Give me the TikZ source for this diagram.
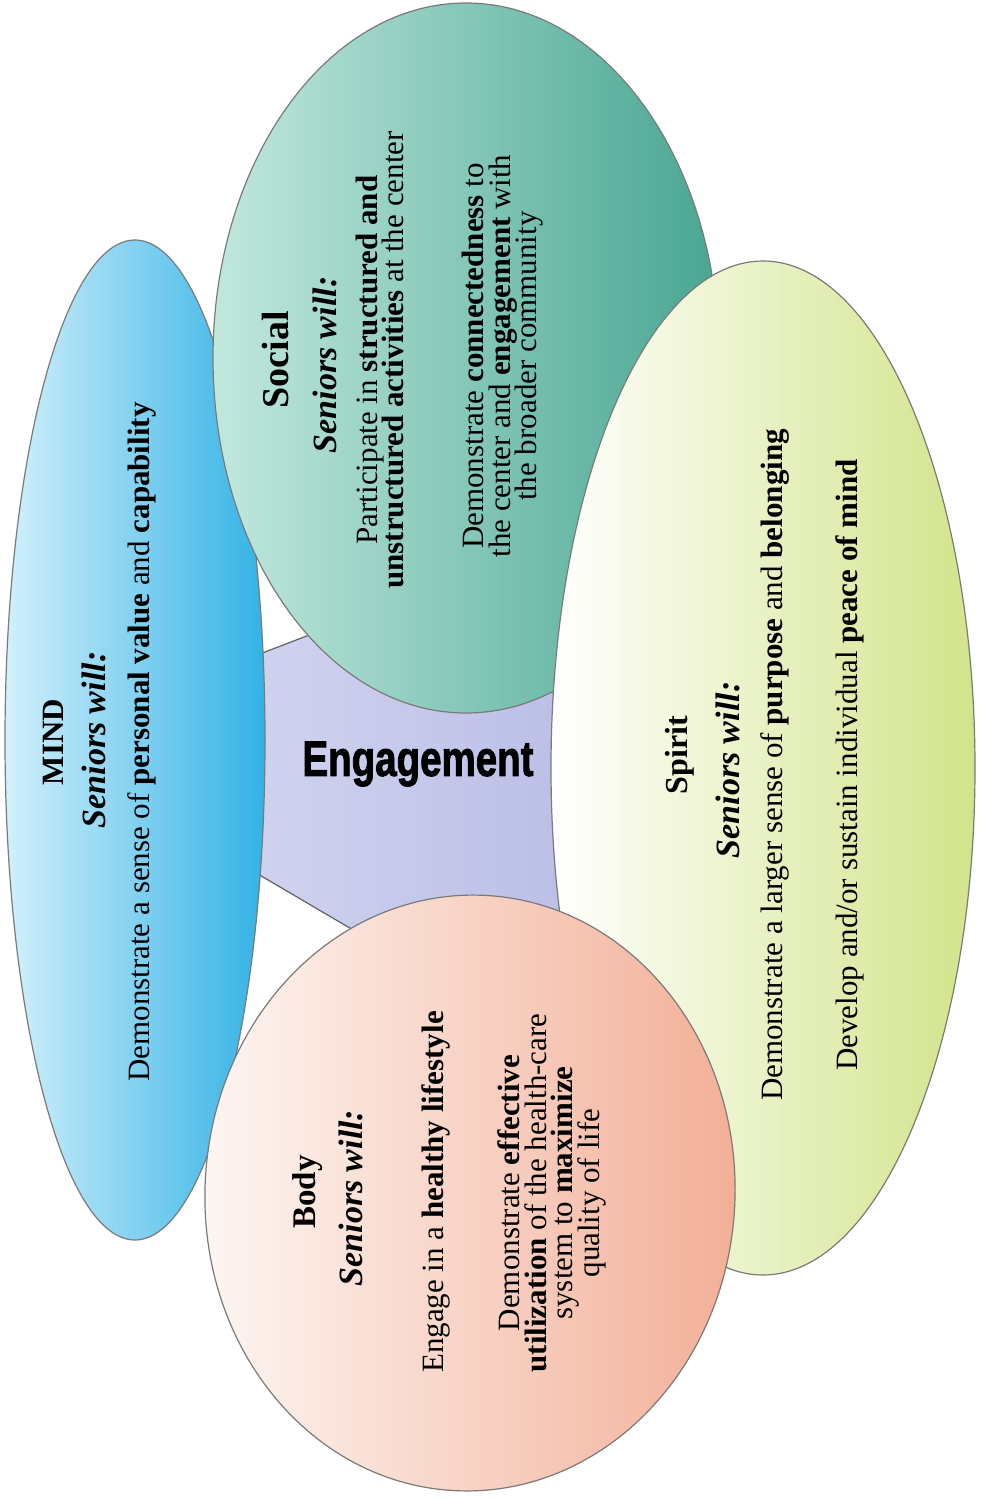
\documentclass[tikz,border=0pt]{standalone}
\usepackage{fontspec}
\setmainfont{Liberation Serif}
\newfontfamily\engfont{Liberation Sans}[BoldFeatures={FakeBold=2}]
\usetikzlibrary{shapes.geometric}
\definecolor{edgegray}{HTML}{7A7A7A}
\definecolor{hexL}{HTML}{D3D6F0}
\definecolor{hexR}{HTML}{B9BDE6}
\definecolor{mindL}{HTML}{D2F0FB}
\definecolor{mindR}{HTML}{33B2E6}
\definecolor{socL}{HTML}{C2E8DE}
\definecolor{socR}{HTML}{48A692}
\definecolor{spL}{HTML}{FFFFFF}
\definecolor{spR}{HTML}{D2E48A}
\definecolor{bodyL}{HTML}{FDF7F4}
\definecolor{bodyR}{HTML}{F3AE96}
\newcommand\mytightlines{\lineskiplimit=-100pt\relax\lineskip=0pt\relax}
\begin{document}
\begin{tikzpicture}[x=1pt,y=-1pt,
  blob/.style={ellipse, draw=edgegray, line width=1.2pt, inner sep=0pt},
  ttl/.style={rotate=90, inner sep=0pt, font={\fontsize{#1}{#1}\selectfont\bfseries}},
  sen/.style={rotate=90, inner sep=0pt, font={\fontsize{34}{34}\selectfont\bfseries\itshape}},
  txt/.style={rotate=90, inner sep=0pt, align=center, font={\fontsize{31}{26.5}\selectfont\mytightlines}},
  engstyle/.style={inner sep=0pt, xscale=0.77, font={\engfont\bfseries\fontsize{50}{50}\selectfont}}]
\fill[white] (0,0) rectangle (980,1499);
\useasboundingbox (0,0) rectangle (980,1499);
% central hexagon
\filldraw[left color=hexL, right color=hexR, draw=edgegray!80!black, line width=1.2pt]
  (200,677) -- (460,577) -- (600,620) -- (600,900) -- (440,981) -- (200,840) -- cycle;
% ellipses
\node[blob, minimum width=260pt, minimum height=1000pt, left color=mindL, right color=mindR] (mind) at (135,740) {};
\node[blob, minimum width=506pt, minimum height=710pt, left color=socL, right color=socR] (social) at (466,358) {};
\node[blob, minimum width=424pt, minimum height=1014pt, left color=spL, right color=spR] (spirit) at (763,768) {};
\node[blob, minimum width=530pt, minimum height=596pt, rotate=-3, left color=bodyL, right color=bodyR] (body) at (470,1193) {};
% MIND
\node[ttl=31] (mindT) at (53,742) {MIND};
\node[sen] (mindS) at (94,740) {Seniors will:};
\node[txt] (mindA) at (142,742) {Demonstrate a sense of \textbf{personal value} and \textbf{capability}};
% Social
\node[ttl=38] (socT) at (275,360) {Social};
\node[sen] (socS) at (325,365) {Seniors will:};
\node[txt] (socA) at (380,360) {Participate in \textbf{structured and}\\ \textbf{unstructured activities} at the center};
\node[txt] (socB) at (503,356) {Demonstrate \textbf{connectedness} to\\ the center and \textbf{engagement} with\\ the broader community};
% Spirit
\node[ttl=32] (spT) at (680,755) {Spirit};
\node[sen] (spS) at (728,770) {Seniors will:};
\node[txt] (spA) at (775,765) {Demonstrate a larger sense of \textbf{purpose} and \textbf{belonging}};
\node[txt] (spB) at (850,765) {Develop and/or sustain individual \textbf{peace of mind}};
% Body
\node[ttl=33] (bodyT) at (308,1192) {Body};
\node[sen] (bodyS) at (351,1198) {Seniors will:};
\node[txt] (bodyA) at (436,1192) {Engage in a \textbf{healthy lifestyle}};
\node[txt] (bodyB) at (552,1193) {Demonstrate \textbf{effective}\\ \textbf{utilization} of the health-care\\ system to \textbf{maximize}\\ quality of life};
% Engagement
\node[engstyle] (eng) at (418,764) {Engagement};
\end{tikzpicture}
\end{document}
